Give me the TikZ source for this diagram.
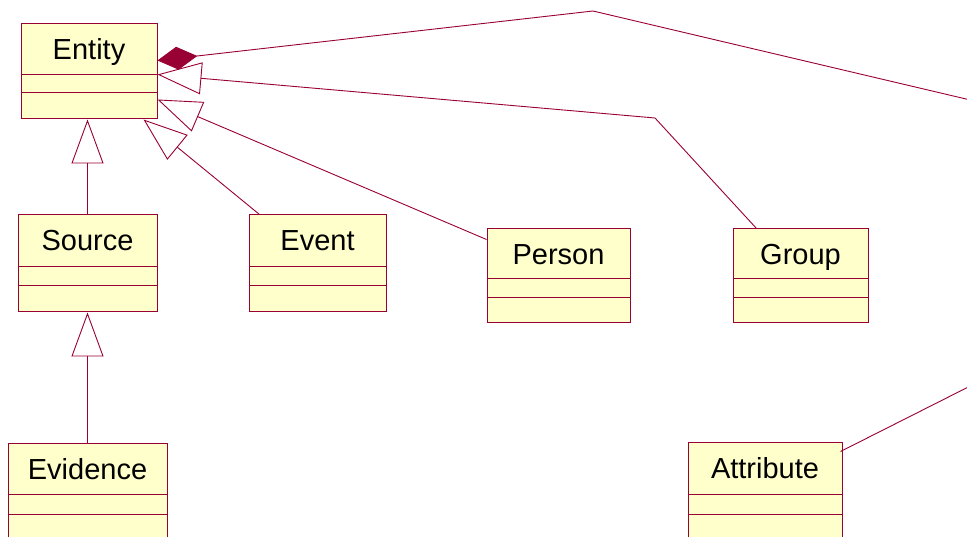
\documentclass[tikz,border=0pt]{standalone}
\usepackage{fontspec}
\setmainfont{Liberation Sans}
\usetikzlibrary{arrows.meta,calc,fit}
\definecolor{umlline}{RGB}{153,0,51}
\definecolor{umlfill}{RGB}{255,255,204}
\tikzset{
  classbox/.style={draw=umlline, fill=umlfill, line width=1pt, inner sep=0pt, rectangle},
  classrule/.style={draw=umlline, line width=0.9pt},
  classname/.style={anchor=base, inner sep=0pt, font=\fontsize{29}{32}\selectfont},
  inherit/.style={draw=umlline, line width=0.9pt,
    -{Triangle[open, length=44pt, width=32pt, line width=0.9pt]}},
  compose/.style={draw=umlline, line width=0.9pt, line join=miter,
    {Diamond[length=40pt, width=23pt]}-},
}
% #1 name, #2 left, #3 top, #4 right, #5 bottom, #6 first rule, #7 second rule, #8 label
\newcommand{\umlclass}[8]{%
  \node[classbox, fit={(#2,#3) (#4,#5)}] (#1) {};
  \draw[classrule] (#2,#6) -- (#4,#6);
  \draw[classrule] (#2,#7) -- (#4,#7);
  \node[classname] (#1-name) at ({(#2+#4)/2}, #3+36) {#8};
}
\begin{document}
\begin{tikzpicture}[x=1pt, y=-1pt]
  \clip (0,0) rectangle (967,537);
  \fill[white] (0,0) rectangle (967,537);

  % classes
  \umlclass{entity}{21}{24}{157}{119}{74}{92}{Entity}
  \umlclass{source}{18}{215}{157}{312}{266}{285}{Source}
  \umlclass{event}{249}{215}{386}{312}{266}{285}{Event}
  \umlclass{person}{487}{229}{630}{323}{278}{297}{Person}
  \umlclass{group}{733}{229}{868}{323}{278}{297}{Group}
  \umlclass{evidence}{8}{443}{167}{560}{494}{514}{Evidence}
  \umlclass{attribute}{688}{442}{842}{560}{494}{514}{Attribute}

  % generalisations
  \draw[inherit] (source.north) -- (entity.south -| source.north);
  \draw[inherit] (evidence.north) -- (source.south);
  \draw[inherit] ($(event.north west)+(11,0)$) -- ($(entity.south east)+(-14,0)$);
  \draw[inherit] ($(person.north west)+(0,11)$) -- ($(entity.north east)+(0,76)$);
  \draw[inherit] ($(group.north west)+(24,0)$) -- (655,118) -- ($(entity.north east)+(0,51)$);

  % composition running out over the right edge down to Attribute
  \draw[compose] ($(entity.north east)+(0,37)$) -- (593,11) -- (1000,107)
    -- (1000,371) -- ($(attribute.north east)+(-2,10)$);
\end{tikzpicture}
\end{document}
